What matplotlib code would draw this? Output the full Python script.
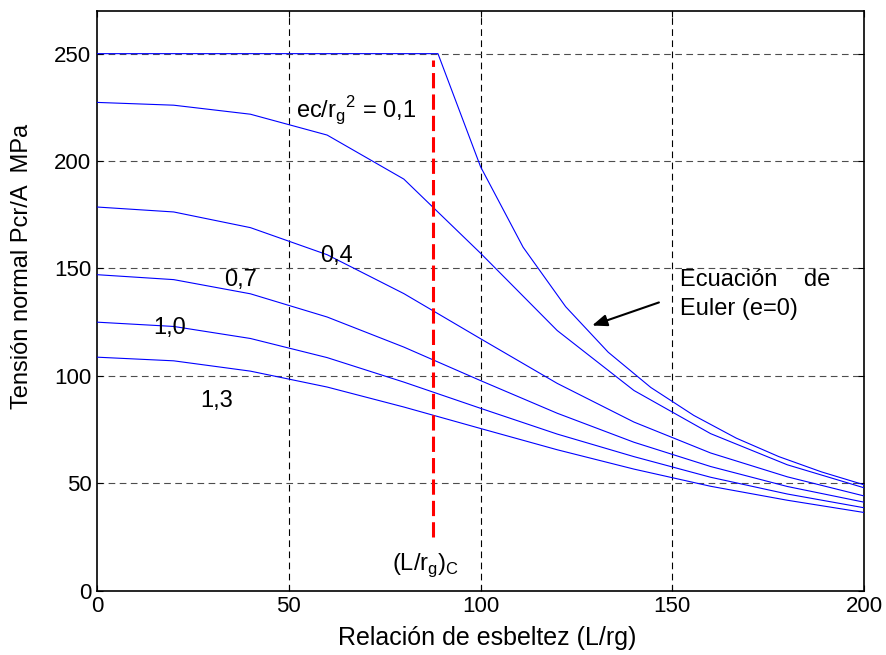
import matplotlib
matplotlib.use('Agg')
import matplotlib.pyplot as plt

plt.rcParams['font.family'] = ['Liberation Sans', 'DejaVu Sans']
plt.rcParams['mathtext.fontset'] = 'custom'
plt.rcParams['mathtext.rm'] = 'Liberation Sans'

# Curva de Euler (e=0), meseta en fy = 250 MPa
x_euler = [0, 88.9, 100, 111.1, 122.2, 133.3, 144.4, 155.6, 166.7, 177.8, 188.9, 200]
y_euler = [250, 250, 197.4, 159.9, 132.2, 111.0, 94.6, 81.6, 71.0, 62.4, 55.3, 49.3]

# Curvas de la fórmula de la secante, una por excentricidad ec/rg^2
x_sec = [0, 20, 40, 60, 80, 100, 120, 140, 160, 180, 200]
y_e01 = [227.3, 226.0, 221.8, 212.1, 191.6, 157.1, 121.1, 93.2, 73.1, 58.6, 47.9]
y_e04 = [178.6, 176.3, 169.0, 156.4, 138.3, 117.3, 96.5, 78.5, 64.1, 53.0, 44.1]
y_e07 = [147.1, 144.8, 138.2, 127.4, 113.4, 97.8, 82.6, 69.1, 57.8, 48.5, 41.2]
y_e10 = [125.0, 123.0, 117.4, 108.5, 97.1, 84.9, 72.9, 62.4, 52.8, 45.0, 38.6]
y_e13 = [108.7, 107.0, 102.2, 94.8, 85.5, 75.5, 65.6, 56.6, 48.6, 42.1, 36.4]

# Esbeltez crítica (L/rg)c
lr_critica = 87.7
x_ticks = [0, 50, 100, 150, 200]
y_ticks = [0, 50, 100, 150, 200, 250]

fig = plt.figure(figsize=(8.86, 6.55), dpi=100)
ax = fig.add_axes([0.1095, 0.0982, 0.8657, 0.8855])

# rejilla punteada estilo MATLAB
for xv in x_ticks[1:-1]:
    ax.axvline(xv, color='k', lw=0.8, ls=(0, (6, 4)), zorder=1)
for yv in y_ticks[1:]:
    ax.axhline(yv, color='0.3', lw=0.8, ls=(0, (6, 4)), zorder=1)

ax.plot(x_euler, y_euler, color='#0000ff', lw=0.8, zorder=3)
for ys in [y_e01, y_e04, y_e07, y_e10, y_e13]:
    ax.plot(x_sec, ys, color='#0000ff', lw=0.8, zorder=3)

ax.plot([lr_critica, lr_critica], [25, 247], color='#ff0000', lw=2.2,
        ls=(0, (5, 2)), zorder=4)

ax.set_xlim(0, 200)
ax.set_ylim(0, 270)
ax.set_xticks(x_ticks)
ax.set_yticks(y_ticks)
ax.tick_params(direction='in', length=4, width=0.8, labelsize=16,
               top=True, right=True, pad=4)
for s in ax.spines.values():
    s.set_linewidth(1.2)

fs = 17
ax.text(51.9, 220, r'ec/r$_\mathregular{g}$$^\mathregular{2}$ = 0,1', fontsize=fs)
ax.text(58.1, 152.8, '0,4', fontsize=fs)
ax.text(33.1, 141.6, '0,7', fontsize=fs)
ax.text(14.7, 119.4, '1,0', fontsize=fs)
ax.text(26.9, 85.7, '1,3', fontsize=fs)
ax.text(152, 141.9, 'Ecuación    de', fontsize=fs)
ax.text(152, 128.4, 'Euler (e=0)', fontsize=fs)
ax.annotate('', xy=(128.4, 123.0), xytext=(147.2, 134.6),
            arrowprops=dict(arrowstyle='-|>,head_length=0.9,head_width=0.35',
                            color='k', lw=1.5))
ax.text(76.8, 9.6, r'(L/r$_\mathregular{g}$)$_\mathregular{C}$', fontsize=fs)

fig.text(486.7 / 886, 1 - 645 / 655, 'Relación de esbeltez (L/rg)', fontsize=18,
         ha='center', va='baseline')
fig.text(22 / 886, 1 - 266 / 655, 'Tensión normal Pcr/A  MPa', fontsize=17,
         ha='center', va='center', rotation=90)

fig.savefig('out.png', dpi=100)
